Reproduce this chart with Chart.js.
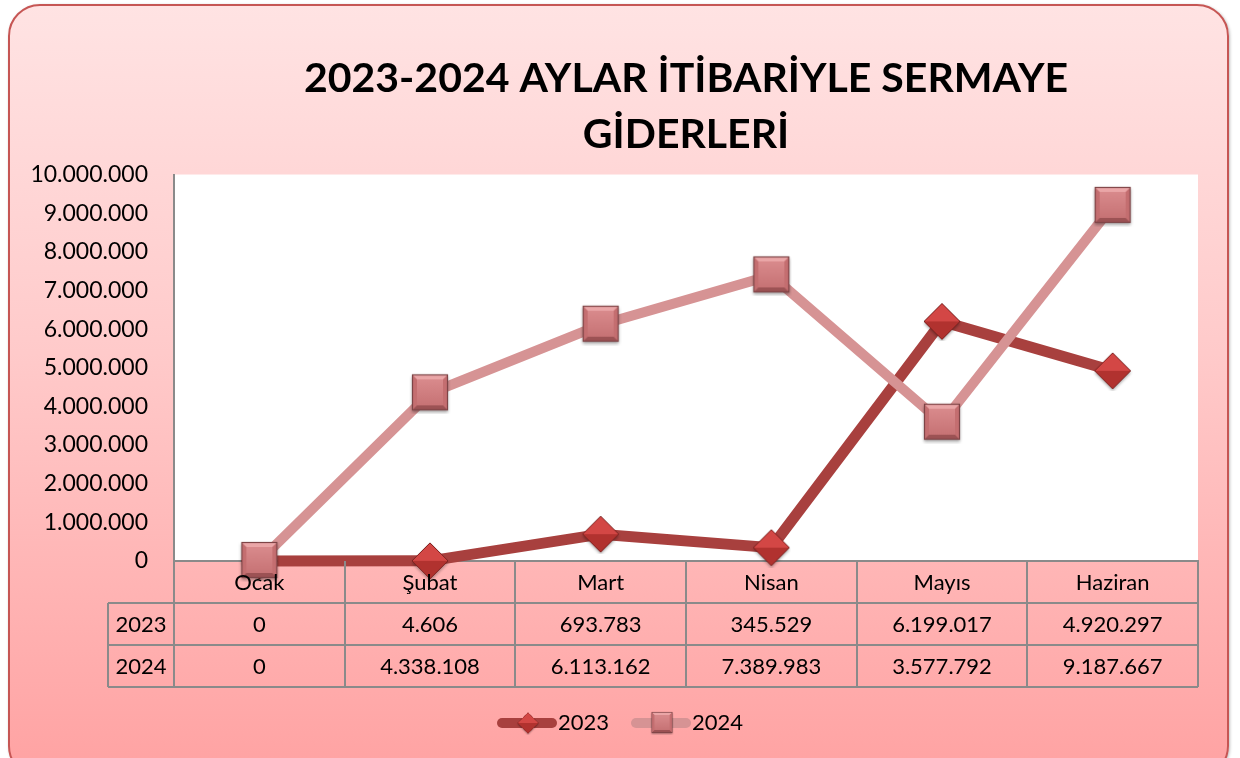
<!DOCTYPE html>
<html lang="tr">
<head>
<meta charset="UTF-8">
<title>Sermaye Giderleri</title>
<script src="https://cdn.jsdelivr.net/npm/chart.js"></script>
<style>
  body { margin: 0; background: #fff; }
  #frame {
    position: absolute; left: 8px; top: 4px; width: 1217px; height: 770px;
    border: 2px solid #c65654; border-radius: 32px;
    background: linear-gradient(to bottom, #ffe3e3 0%, #ffcaca 45%, #ffa2a2 100%);
    box-shadow: 1px 1px 3px rgba(0,0,0,0.25);
  }
  #wrap { position: absolute; left: 0; top: 0; width: 1240px; height: 758px; }
</style>
</head>
<body>
<div id="frame"></div>
<div id="wrap"><canvas id="chart" width="1240" height="758"></canvas></div>
<script>
const months = ['Ocak', 'Şubat', 'Mart', 'Nisan', 'Mayıs', 'Haziran'];
const values2023 = [0, 4606, 693783, 345529, 6199017, 4920297];
const values2024 = [0, 4338108, 6113162, 7389983, 3577792, 9187667];
const seriesNames = ['2023', '2024'];

const FONT = 'Lato, "Noto Sans", sans-serif';
const fmt = v => String(Math.round(v)).replace(/\B(?=(\d{3})+(?!\d))/g, '.');

// marker pictures with a bit of shading
function diamondMarker() {
  const c = document.createElement('canvas');
  c.width = 40; c.height = 40;
  const g = c.getContext('2d');
  const cx = 20, cy = 20, r = 18;
  g.shadowColor = 'rgba(0,0,0,0.35)'; g.shadowOffsetY = 2; g.shadowBlur = 3;
  g.fillStyle = '#a8302e';
  g.beginPath(); g.moveTo(cx, cy - r); g.lineTo(cx + r, cy); g.lineTo(cx, cy + r); g.lineTo(cx - r, cy); g.closePath(); g.fill();
  g.shadowColor = 'transparent';
  g.fillStyle = '#d34745';
  g.beginPath(); g.moveTo(cx, cy - r); g.lineTo(cx + r, cy); g.lineTo(cx - r, cy); g.closePath(); g.fill();
  g.fillStyle = '#b1322f';
  g.beginPath(); g.moveTo(cx - r, cy); g.lineTo(cx + r, cy); g.lineTo(cx, cy + r); g.closePath(); g.fill();
  g.strokeStyle = '#7d2220'; g.lineWidth = 1;
  g.beginPath(); g.moveTo(cx, cy - r); g.lineTo(cx + r, cy); g.lineTo(cx, cy + r); g.lineTo(cx - r, cy); g.closePath(); g.stroke();
  return c;
}
function squareMarker() {
  const c = document.createElement('canvas');
  c.width = 42; c.height = 42;
  const g = c.getContext('2d');
  const x0 = 3, y0 = 2, s = 36;
  g.shadowColor = 'rgba(0,0,0,0.35)'; g.shadowOffsetY = 2; g.shadowBlur = 3;
  g.fillStyle = '#c46e70';
  g.fillRect(x0, y0, s, s);
  g.shadowColor = 'transparent';
  const b = 5;
  g.fillStyle = '#eaa6a7';
  g.beginPath(); g.moveTo(x0, y0); g.lineTo(x0 + s, y0); g.lineTo(x0 + s - b, y0 + b); g.lineTo(x0 + b, y0 + b); g.closePath(); g.fill();
  g.fillStyle = '#9c5254';
  g.beginPath(); g.moveTo(x0, y0 + s); g.lineTo(x0 + s, y0 + s); g.lineTo(x0 + s - b, y0 + s - b); g.lineTo(x0 + b, y0 + s - b); g.closePath(); g.fill();
  const grd = g.createLinearGradient(0, y0 + b, 0, y0 + s - b);
  grd.addColorStop(0, '#d98a8c'); grd.addColorStop(1, '#c77375');
  g.fillStyle = grd;
  g.fillRect(x0 + b, y0 + b, s - 2 * b, s - 2 * b);
  g.strokeStyle = '#7e4446'; g.lineWidth = 1.2;
  g.strokeRect(x0 + 0.5, y0 + 0.5, s - 1, s - 1);
  return c;
}
// legend symbol: thick line with the marker in the middle
// (drawn off-centre so that it sits right against the label text)
function legendIcon(color, marker) {
  const c = document.createElement('canvas');
  c.width = 72; c.height = 40;
  const g = c.getContext('2d');
  g.strokeStyle = color; g.lineWidth = 10; g.lineCap = 'round';
  g.beginPath(); g.moveTo(16, 20); g.lineTo(66, 20); g.stroke();
  const k = 0.58;
  g.drawImage(marker, 42 - marker.width * k / 2, 20 - marker.height * k / 2, marker.width * k, marker.height * k);
  return c;
}

const lineColors = ['#a8403e', '#d69394'];
const markers = [diamondMarker(), squareMarker()];
const legendIcons = [legendIcon(lineColors[0], markers[0]), legendIcon(lineColors[1], markers[1])];

const plotBg = {
  id: 'plotBg',
  beforeDraw(chart) {
    const { ctx, chartArea: a } = chart;
    ctx.save();
    ctx.fillStyle = '#ffffff';
    ctx.fillRect(a.left, a.top, a.right - a.left, a.bottom - a.top);
    ctx.restore();
  }
};

// data table under the axis
const dataTable = {
  id: 'dataTable',
  afterDatasetsDraw(chart) {
    const { ctx, chartArea: a, scales } = chart;
    const x = scales.x;
    const rowH = 42;
    const labelLeft = 108;
    const colW = x.width / months.length;
    const top = a.bottom;
    ctx.save();
    ctx.strokeStyle = '#8a8a8a';
    ctx.lineWidth = 2;
    ctx.beginPath();
    ctx.moveTo(labelLeft, top + rowH); ctx.lineTo(a.right, top + rowH);
    ctx.moveTo(labelLeft, top + 2 * rowH); ctx.lineTo(a.right, top + 2 * rowH);
    ctx.moveTo(labelLeft, top + 3 * rowH); ctx.lineTo(a.right, top + 3 * rowH);
    ctx.moveTo(labelLeft, top + rowH); ctx.lineTo(labelLeft, top + 3 * rowH);
    for (let i = 0; i <= months.length; i++) {
      const px = Math.round(x.getPixelForValue(i) - colW / 2);
      ctx.moveTo(px, top); ctx.lineTo(px, top + 3 * rowH);
    }
    ctx.stroke();

    ctx.fillStyle = '#000';
    ctx.font = '22px ' + FONT;
    ctx.textAlign = 'center';
    ctx.textBaseline = 'middle';
    const rows = [values2023, values2024];
    months.forEach((m, i) => {
      const cx = x.getPixelForValue(i);
      ctx.fillText(m, cx, top + rowH / 2 + 1);
      rows.forEach((r, j) => ctx.fillText(fmt(r[i]), cx, top + rowH * (j + 1) + rowH / 2 + 1));
    });
    seriesNames.forEach((n, j) => ctx.fillText(n, (labelLeft + a.left) / 2, top + rowH * (j + 1) + rowH / 2 + 1));
    ctx.restore();
  }
};

new Chart(document.getElementById('chart'), {
  type: 'line',
  data: {
    labels: months,
    datasets: [
      {
        label: seriesNames[0],
        data: values2023,
        borderColor: lineColors[0],
        backgroundColor: lineColors[0],
        borderWidth: 11,
        pointStyle: markers[0],
        tension: 0,
        order: 1
      },
      {
        label: seriesNames[1],
        data: values2024,
        borderColor: lineColors[1],
        backgroundColor: lineColors[1],
        borderWidth: 10,
        pointStyle: markers[1],
        tension: 0,
        order: 0
      }
    ]
  },
  options: {
    responsive: false,
    animation: false,
    clip: false,
    layout: { padding: { left: 0, right: 0, top: 0, bottom: 14 } },
    scales: {
      x: {
        offset: true,
        grid: { display: false, drawTicks: false },
        border: { display: true, color: '#8a8a8a', width: 2 },
        ticks: { display: false },
        afterFit(scale) { scale.height = 129; }
      },
      y: {
        min: 0,
        max: 10000000,
        grid: { display: false, drawTicks: false },
        border: { display: true, color: '#8a8a8a', width: 2 },
        ticks: {
          stepSize: 1000000,
          padding: 26,
          color: '#000',
          font: { family: FONT, size: 23 },
          callback: v => fmt(v)
        },
        afterFit(scale) { scale.width = 174; }
      },
      // empty axis on the right, only keeps the margin there
      yRight: {
        position: 'right',
        min: 0,
        max: 10000000,
        grid: { display: false, drawTicks: false },
        border: { display: false },
        ticks: { display: false },
        afterFit(scale) { scale.width = 42; }
      }
    },
    plugins: {
      title: {
        display: true,
        fullSize: false,
        text: ['2023-2024 AYLAR İTİBARİYLE SERMAYE', 'GİDERLERİ'],
        color: '#000',
        font: { family: FONT, size: 41, weight: 'bold', lineHeight: 1.36 },
        padding: { top: 51, bottom: 12 }
      },
      legend: {
        position: 'bottom',
        labels: {
          usePointStyle: true,
          pointStyleWidth: 50,
          color: '#000',
          font: { family: FONT, size: 22 },
          padding: 22,
          generateLabels(chart) {
            return chart.data.datasets.map((ds, i) => ({
              text: ds.label,
              pointStyle: legendIcons[i],
              fillStyle: ds.borderColor,
              strokeStyle: ds.borderColor,
              lineWidth: 0,
              datasetIndex: i,
              hidden: false
            }));
          }
        }
      },
      tooltip: { enabled: false }
    }
  },
  plugins: [plotBg, dataTable]
});
</script>
</body>
</html>
